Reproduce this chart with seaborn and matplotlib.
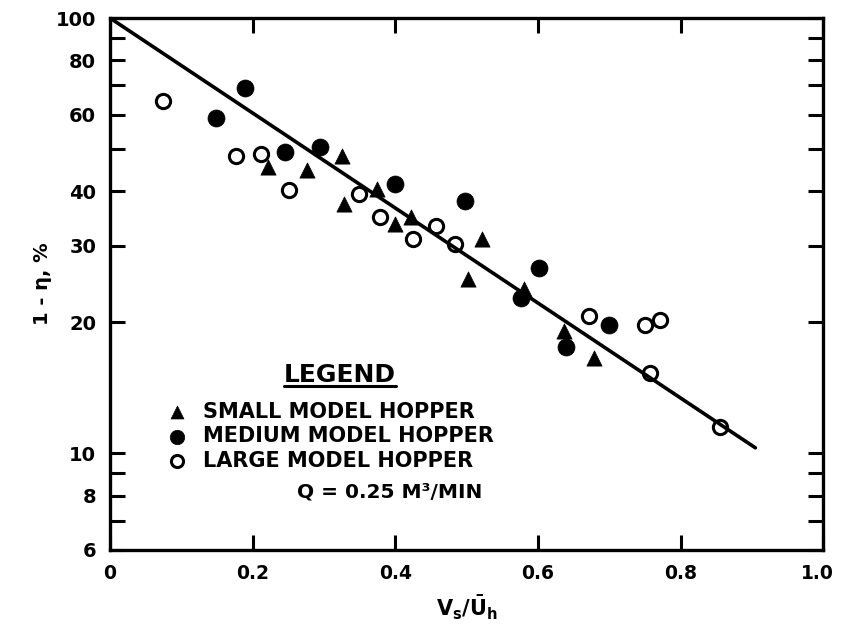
import numpy as np
import pandas as pd
import matplotlib
matplotlib.use("Agg")
import matplotlib.pyplot as plt
import matplotlib.transforms as mtransforms
import seaborn as sns
from matplotlib.lines import Line2D

# values (x = Vs/Uh, y = 1 - eta in %)
small_x = [0.222, 0.276, 0.326, 0.328, 0.375, 0.400, 0.422, 0.522, 0.502, 0.580, 0.636, 0.679]
small_y = [45.4, 44.7, 48.2, 37.4, 40.5, 33.7, 34.9, 31.1, 25.2, 23.9, 19.1, 16.6]

medium_x = [0.148, 0.190, 0.245, 0.294, 0.399, 0.498, 0.577, 0.602, 0.639, 0.700]
medium_y = [58.8, 68.9, 49.2, 50.5, 41.6, 38.0, 22.7, 26.6, 17.6, 19.7]

large_x = [0.074, 0.177, 0.212, 0.251, 0.349, 0.378, 0.425, 0.457, 0.484, 0.671, 0.750, 0.771, 0.757, 0.855]
large_y = [64.6, 48.2, 48.7, 40.3, 39.4, 34.9, 31.1, 33.3, 30.3, 20.7, 19.7, 20.3, 15.3, 11.5]

# fitted line end points
line_x = [0.0, 0.905]
line_y = [100.0, 10.3]

x_ticks = [0, 0.2, 0.4, 0.6, 0.8, 1.0]
x_labels = ["0", "0.2", "0.4", "0.6", "0.8", "1.0"]
y_ticks = [6, 7, 8, 9, 10, 20, 30, 40, 50, 60, 70, 80, 90, 100]
y_labels = ["6", "", "8", "", "10", "20", "30", "40", "", "60", "", "80", "", "100"]

labels = ["SMALL MODEL HOPPER", "MEDIUM MODEL HOPPER", "LARGE MODEL HOPPER"]

sns.set_style("ticks")
plt.rcParams["font.family"] = ["DejaVu Sans"]
plt.rcParams["font.weight"] = "bold"
plt.rcParams["text.color"] = "black"
plt.rcParams["axes.labelcolor"] = "black"
plt.rcParams["axes.edgecolor"] = "black"
plt.rcParams["xtick.color"] = "black"
plt.rcParams["ytick.color"] = "black"
plt.rcParams["mathtext.fontset"] = "custom"
plt.rcParams["mathtext.rm"] = "DejaVu Sans:bold"
plt.rcParams["mathtext.it"] = "DejaVu Sans:bold"
plt.rcParams["mathtext.bf"] = "DejaVu Sans:bold"

df = pd.concat([
    pd.DataFrame({"x": small_x, "y": small_y, "model": labels[0]}),
    pd.DataFrame({"x": medium_x, "y": medium_y, "model": labels[1]}),
    pd.DataFrame({"x": large_x, "y": large_y, "model": labels[2]}),
])

fig = plt.figure(figsize=(8.42, 6.34), dpi=100)
ax = fig.add_axes([0.1306, 0.1325, 0.8470, 0.8391])

sns.lineplot(x=line_x, y=line_y, color="black", lw=2.6, ax=ax, legend=False)

sns.scatterplot(data=df[df.model == labels[0]], x="x", y="y", marker="^", s=120,
                color="black", edgecolor="black", linewidth=0.5, ax=ax, label=labels[0])
sns.scatterplot(data=df[df.model == labels[1]], x="x", y="y", marker="o", s=150,
                color="black", edgecolor="black", linewidth=0.5, ax=ax, label=labels[1])
sns.scatterplot(data=df[df.model == labels[2]], x="x", y="y", marker="o", s=105,
                facecolor="white", edgecolor="black", linewidth=2.2, ax=ax, label=labels[2])

ax.set_yscale("log")
ax.set_xlim(0, 1.0)
ax.set_ylim(6, 100)
ax.set_xticks(x_ticks)
ax.set_xticklabels(x_labels)
ax.set_yticks(y_ticks)
ax.set_yticklabels(y_labels)
ax.yaxis.set_minor_locator(matplotlib.ticker.NullLocator())

ax.tick_params(axis="both", which="both", direction="in", length=11, width=2.2,
               top=True, right=True, labelsize=14, pad=10, colors="black")
ax.tick_params(axis="x", labelsize=13.5)
for lab in ax.get_xticklabels() + ax.get_yticklabels():
    lab.set_fontweight("bold")
# nudge the last x label so it stays inside the canvas
last = ax.get_xticklabels()[-1]
last.set_transform(last.get_transform() + mtransforms.ScaledTranslation(-4 / 72, 0, fig.dpi_scale_trans))
for sp in ax.spines.values():
    sp.set_linewidth(2.4)

ax.set_xlabel(r"$V_s/\bar{U}_h$", fontsize=15, labelpad=8)
ax.set_ylabel("1 - η, %", fontsize=14, fontweight="bold", labelpad=3)

leg = ax.legend(loc="upper left", bbox_to_anchor=(0.0586, 0.306),
                frameon=False, fontsize=15, handletextpad=0.75,
                labelspacing=0.22, borderpad=0.2, markerscale=0.85, handlelength=1.0)
for t in leg.get_texts():
    t.set_fontweight("bold")

title = ax.text(0.322, 0.329, "LEGEND", transform=ax.transAxes, fontsize=18,
                fontweight="bold", ha="center", va="center")

ax.text(0.262, 0.109, "Q = 0.25 M³/MIN", transform=ax.transAxes, fontsize=14.5,
        fontweight="bold", va="center", ha="left")

# underline the legend title
fig.canvas.draw()
bb = title.get_window_extent()
fw, fh = fig.bbox.width, fig.bbox.height
yline = (bb.y0 + 1) / fh
fig.add_artist(Line2D([bb.x0 / fw, bb.x1 / fw], [yline, yline], color="black", lw=2.2))

fig.savefig("out.png", dpi=100)
